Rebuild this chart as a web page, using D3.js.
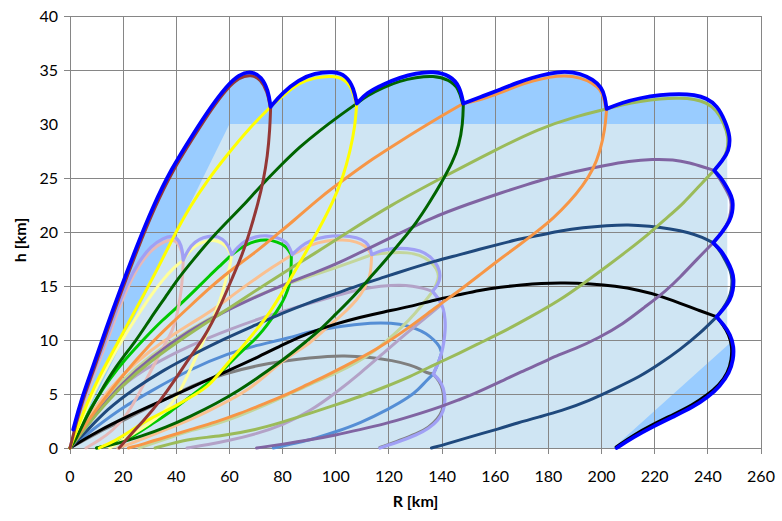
<!DOCTYPE html>
<html>
<head>
<meta charset="utf-8">
<script src="https://cdn.jsdelivr.net/npm/d3@7"></script>
<style>
body { margin: 0; background: #fff; }
text { font-family: Lato, "Open Sans", sans-serif; fill: #000; }
</style>
</head>
<body>
<div id="chart"></div>
<script>
var width = 782, height = 521;

var xTicks = [0, 20, 40, 60, 80, 100, 120, 140, 160, 180, 200, 220, 240, 260];
var yTicks = [0, 5, 10, 15, 20, 25, 30, 35, 40];
var yHiddenGrid = [30];

// background zones [R km, h km]
var lightZone = [[0,0],[60,30],[247.3,30],[247.3,10],[249.6,10],[204.4,0]];
var darkClipX = 247.3, darkClipY = 10;

// outer envelope, upper family (one lobe per array)
var envA = [
  [[1.2,1.7],[4,4.3],[8.8,7.6],[13.5,11],[18.8,14.6],[25,18.6],[31.3,22.4],[38,25.8],[46.4,29.1],[53,31.6],[58.9,33.5],[63.5,34.6],[68.3,34.9],[72,34.4],[74.6,33.1],[75.5,31.6]],
  [[75.5,31.6],[80,32.9],[86,34.1],[92,34.7],[99,34.9],[104,34.5],[106.8,33.3],[107.9,31.9]],
  [[107.9,31.9],[111.6,32.9],[118,33.7],[124.2,34.3],[130,34.7],[136.7,34.9],[143,34.5],[146.7,33.5],[148,31.9]],
  [[148,31.9],[155.5,32.6],[162,33.2],[168,33.8],[174,34.3],[180.6,34.7],[186,34.9],[192,34.7],[196.9,34.1],[200,33.4],[201.3,32.5],[201.9,31.4]],
  [[201.9,31.4],[208,32],[214.4,32.4],[222,32.7],[229.5,32.8],[235,32.7],[239.5,32.4],[243.5,31.7],[246.5,30.3],[248.5,28.8],[247.9,27.5],[245.5,26.6],[242.4,25.7]],
  [[242.4,25.7],[245,25],[247,24.2],[249,23.3],[249.5,22.6],[249.2,21.8],[248.4,21.1],[245.5,20],[242,19]],
  [[242,19],[245,18.3],[247.2,17.4],[249.2,16.4],[249.8,15.6],[249.5,14.6],[248.4,13.7],[246,12.9],[243.3,12.15]],
  [[243.3,12.15],[246,11.4],[248.5,10.5],[249.8,9.4],[249.6,8.2],[248.2,7],[244.5,5.7],[240,4.7],[234.5,3.8],[227,2.9],[219.4,2],[212,1],[205.7,0]]
];

// outer envelope, lower family
var envB = [
  [[0,0],[2.5,2.2],[5.5,4.8],[9,7.2],[12.5,9.3],[16.5,12.1],[21.3,15.2],[26,17.3],[30.5,18.7],[35,19.45],[38.9,19.7],[41.2,19.2],[42.3,18.3],[42.6,17.4]],
  [[42.6,17.4],[44.5,18.4],[47,19.1],[50,19.5],[54,19.7],[57.5,19.4],[59.8,18.7],[60.8,17.9]],
  [[60.8,17.9],[63,18.6],[66,19.2],[70,19.6],[74,19.7],[78,19.5],[81.5,19.1],[82.9,18.4],[83.6,17.9]],
  [[83.6,17.9],[87,18.7],[90.3,19.2],[96,19.6],[102.8,19.7],[108,19.5],[111.6,19.1],[113.1,18.4],[113.5,17.9]],
  [[113.5,17.9],[117,18.3],[121.6,18.5],[127,18.5],[131.7,18.3],[136,17.7],[138.6,16.8],[139.5,15.9],[138.5,15.1],[136.4,14.5]],
  [[136.4,14.5],[138.8,13.8],[140.5,13],[141.2,11.9],[141.2,10.9],[140.7,9.8],[139.9,8.8],[138.5,7.8],[136.7,6.85]],
  [[136.7,6.85],[139,6.3],[140.6,5.6],[141.3,4.4],[140.5,3.4],[138.7,2.6],[135,1.8],[130.4,1.2],[124,0.6],[116.6,0]]
];

// upper family trajectories: climb, lobe, return
var brown = [
  [[0,0],[1.6,1.6],[4.4,4.2],[9.2,7.4],[13.9,10.8],[19.2,14.4],[25.4,18.4],[31.7,22.2],[38.4,25.6],[46.8,28.9],[53.3,31.4],[59.1,33.3],[63.6,34.3],[68.2,34.6],[71.8,34.1],[74.3,33],[75.3,31.6]],
  [[75.5,31.6],[75.2,29.5],[74.3,27],[72.8,24.8],[70.8,22.7],[68,20.3],[65,18],[61.5,16],[56,12.8],[50.5,10.2],[45,8.4],[39.5,6.3],[34,4.4],[28,2.6],[23,1.3],[18.5,0]]
];
var yellow = [
  [[0,0],[5,3.3],[10,6.2],[18.5,10],[26,13.4],[33,16.6],[39,19.6],[45,22.3],[52,24.9],[59,27.1],[67,29.5],[75.5,31.6]],
  [[75.5,31.6],[80,32.6],[86,33.8],[92,34.3],[99,34.5],[103.8,34.1],[106.4,33.1],[107.6,31.9]],
  [[107.9,31.9],[107.2,29.7],[105.5,27.6],[102.8,25.1],[99,22.8],[94,20.4],[88,17.8],[82.8,15.6],[75.2,12.5],[70,10.9],[65,9.4],[59,7.8],[52.7,5.8],[47.4,5],[40,3.9],[29.8,2.7],[23,1.6],[17.3,0.7],[11,0]]
];
var darkGreen = [
  [[0,0],[2.3,0.8],[6,2.8],[11,5],[17,7.5],[24.8,9.9],[30,11.9],[36,14],[41,15.8],[46.3,17.4],[52,19.1],[58.9,20.9],[65,22.4],[71.5,24.2],[79,26.1],[86.5,27.9],[94,29.4],[101,30.7],[107.9,31.9]],
  [[107.9,31.9],[111.6,32.6],[118,33.4],[124.2,34],[130,34.3],[136.7,34.5],[142.7,34.1],[146.3,33.3],[147.7,31.9]],
  [[148,31.9],[147.8,30],[146.4,28],[143.8,26.4],[140.5,24.9],[135.5,22.8],[130.2,20.8],[124.5,19.1],[119.1,17.5],[113,15.8],[106.6,14],[100,12.4],[94,10.9],[89,9.9],[83,8.7],[76.5,7.5],[70,6.4],[64,5.4],[55,4.1],[45.1,2.9],[36,1.9],[27,1.1],[18,0.4],[10,0]]
];
var orange = [
  [[0,0],[5,1.9],[10,3.6],[20,6.8],[30,9.6],[38,11.5],[45,13.1],[52,14.7],[57.7,15.9],[64,17.1],[70.2,18.2],[77,19.6],[84,21],[94,23.2],[105,25.2],[114,26.8],[124.2,28.4],[136,30.2],[148,31.9]],
  [[148,31.9],[155.5,32.3],[162,32.9],[168,33.5],[174,34],[180.6,34.35],[186,34.5],[192,34.3],[196.6,33.8],[199.6,33.2],[201,32.3],[201.6,31.4]],
  [[201.9,31.4],[201.3,29.5],[199.5,27.5],[196.9,25.8],[193,24.3],[188,22.8],[182,21.3],[175,19.9],[168,18.6],[161.8,17.5],[154,16],[146.7,14.6],[138,13.1],[127.9,11.2],[115.4,9.1],[102.8,7.5],[94,6.4],[90.3,6],[80.3,4.8],[72,4],[64,3.2],[55,2.4],[45.1,1.7],[36,1],[28,0.4],[22,0]]
];
var olive = [
  [[0,0],[10,3.2],[20,5.9],[30,8],[45,10.6],[57,12.5],[70,14.6],[86.5,17.2],[94,18.3],[105.3,20.1],[120,22.4],[140.5,25.1],[160,27.6],[176.8,29.6],[189,30.6],[202,31.4]],
  [[202,31.4],[208,31.8],[214.4,32.1],[222,32.35],[229.5,32.4],[235,32.3],[239.3,32],[243.2,31.3],[246,30.1],[247.8,28.8],[247.3,27.4],[245.2,26.5],[242.4,25.7]],
  [[242.4,25.7],[238,24.6],[230.7,22.6],[224,21.2],[218.2,19.9],[210,18.3],[201.9,16.8],[193,15.2],[184.4,13.7],[173,12.1],[161.8,10.6],[154,9.7],[146.7,8.8],[137,7.7],[127.9,6.6],[118,5.6],[109.1,4.75],[100,4],[90.3,3.2],[80,2.4],[70.2,1.7],[57,1.1],[45.1,0.85],[38,0.4],[32,0]]
];
var purple = [
  [[0,0],[10,3.3],[20,6.1],[30,8.3],[45,10.9],[57,12.5],[70,14],[82,15.3],[94,16.4],[101.6,17.2],[110,18.2],[120,19.4],[136.7,21.4],[150,22.6],[161.8,23.6],[172,24.4],[180,25],[190,25.6],[202,26.2],[210,26.55],[219.4,26.75],[227,26.7],[233.3,26.4],[238.5,26],[242.4,25.7]],
  [[242.4,25.7],[244.8,24.8],[246.7,24],[248.4,23.2],[248.9,22.6],[248.6,21.8],[247.9,21],[245.2,19.9],[242,19]],
  [[242,19],[236,17.5],[229.5,15.8],[224.5,14.6],[216,13],[208.2,11.5],[199,10.2],[189.4,9.1],[184.4,8.7],[176.8,7.8],[170,7.1],[161.8,6.1],[151,4.9],[146.7,4.5],[140.5,3.9],[127.9,2.9],[118,2.2],[109.1,1.7],[100,1.2],[90.3,0.75],[80,0.35],[70.2,0]]
];
var navy = [
  [[0,0],[6,1.5],[14,3.6],[23.6,5.4],[35,7.2],[47.4,8.8],[58,10.1],[70,11.4],[80,12.5],[90.3,13.5],[100,14.3],[109,15.1],[118,15.8],[128,16.6],[137,17.3],[146.7,17.9],[154,18.4],[162,18.9],[170,19.4],[177,19.7],[184.4,20.1],[193,20.4],[202,20.6],[210,20.7],[218,20.55],[226,20.3],[233,19.95],[238,19.5],[242,19]],
  [[242,19],[244.8,18.2],[246.7,17.3],[248.6,16.4],[249.2,15.6],[248.9,14.6],[247.9,13.8],[245.7,12.9],[243.3,12.15]],
  [[243.3,12.15],[237,10.6],[229.5,9.1],[222,7.8],[214.4,6.6],[205,5.5],[195.6,4.4],[184.4,3.4],[176.8,2.9],[168,2.3],[161.8,1.8],[150,1],[142,0.4],[136,0]]
];
var black = [
  [[0,0],[10,1.5],[21.3,2.9],[34,4.3],[46.4,5.7],[58,7],[71.5,8.5],[82,9.8],[90.3,10.7],[100,11.5],[109,12.1],[118,12.6],[128,13.1],[137,13.7],[146.7,14.2],[154,14.6],[162,14.9],[170,15.1],[177,15.25],[186,15.3],[196,15.2],[205,15],[214.4,14.6],[222,14.1],[229.5,13.4],[236,12.8],[243.3,12.15]],
  [[243.3,12.15],[245.7,11.4],[247.9,10.5],[249.1,9.4],[248.9,8.2],[247.6,7],[244.2,5.8],[239.7,4.9],[234.3,4],[227,3.1],[219.4,2.2],[212,1.2],[205.5,0.1]]
];

// lower family trajectories
var pink = [
  [[0,0],[3,2.2],[6,4.8],[9.5,7.2],[13,9.2],[17,12],[21.8,15],[26.4,17.1],[30.8,18.4],[35,19.1],[38.8,19.35],[40.9,18.9],[42.1,18.2],[42.6,17.4]],
  [[42.6,17.4],[42.4,16],[41.8,14.5],[41.1,13.4],[40,12],[38.6,10.9],[36.1,9.8],[32.5,8.1],[28.6,6.3],[25,4.6],[21,2.9],[16,1.6],[11,0.7],[6,0]]
];
var lightYellow = [
  [[0,0],[5,3],[10,5.7],[15,8],[20,10.2],[25,12.1],[30,14],[35,15.6],[39,16.7],[42.6,17.4]],
  [[42.6,17.4],[44.5,18.1],[47,18.7],[50,19.1],[54,19.3],[57.3,19],[59.5,18.5],[60.5,17.9]],
  [[60.8,17.9],[60.2,16.8],[59,15.9],[57.3,14.3],[55.2,12.8],[53,11.5],[51.4,10.6],[48,8.7],[44,6.6],[40.1,4.6],[35,3.2],[29,2.1],[23.8,1.3],[19,0.6],[15,0]]
];
var green = [
  [[0,0],[5,2.5],[10,4.6],[15,6.4],[20,8],[28.6,10.3],[35,11.9],[41.1,13.2],[47.4,14.7],[52.7,16],[57,17],[60.8,17.9]],
  [[60.8,17.9],[63,18.3],[66,18.8],[70,19.2],[74,19.3],[78,19.1],[81.2,18.7],[82.5,18.2],[83.3,17.9]],
  [[83.3,17.9],[83.2,16.5],[82.8,15.2],[81,14],[79,13.1],[76,12],[72.7,10.9],[69,9.9],[65.2,9.1],[61,8.1],[57.7,7.2],[51,5.8],[45.1,4.75],[37.6,3.3],[30,2.1],[24,1.1],[17,0.4],[10,0]]
];
var peach = [
  [[0,0],[5,2.2],[10,4],[20,6.9],[30,9],[40,10.7],[47.4,11.8],[55,13],[62,14.3],[70,15.7],[76.5,16.8],[83.6,17.9]],
  [[83.6,17.9],[87,18.3],[90.3,18.8],[96,19.2],[102.8,19.3],[108,19.1],[111.2,18.7],[112.8,18.2],[113.3,17.9]],
  [[113.5,17.9],[113.3,16.8],[112.9,15.9],[110.8,14.7],[107.9,13.7],[104,12.7],[100.3,11.9],[95,10.8],[90.3,9.7],[85,8.9],[80.3,8.1],[74,6.8],[67.7,5.5],[60,4.4],[52,3.4],[45.1,2.6],[37,1.8],[30,1.1],[24,0.5],[18,0]]
];
var lightGreen = [
  [[0,0],[5,2],[10,3.7],[20,6.4],[30,8.5],[45,11],[60,13],[75,14.6],[90.3,15.9],[100,16.7],[107,17.3],[113.5,17.9]],
  [[113.5,17.9],[117,18],[121.6,18.1],[127,18.1],[131.5,17.9],[135.6,17.3],[138,16.6],[138.9,15.9],[138,15.2],[136.4,14.5]],
  [[136.4,14.5],[134,13.7],[130,12.5],[125,11.2],[120,10.1],[115.4,9.1],[108,7.9],[100,6.9],[90.3,5.9],[80,4.7],[70,3.6],[60,2.6],[52,2],[45.1,1.6],[38,1],[32,0.5],[26,0]]
];
var lavender = [
  [[0,0],[5,1.9],[10,3.5],[20,5.9],[30,7.6],[45.1,9.5],[60,11],[75,12.3],[90.3,13.4],[100,14.1],[109.1,14.7],[117,15],[124.2,15.1],[129,15],[133,14.8],[136.4,14.5]],
  [[136.4,14.5],[138.5,13.9],[139.8,13.3]],
  [[139.8,13.3],[134,12.1],[127.9,10.9],[118,8.8],[109.1,6.9],[100,5.1],[90.3,3.4],[80,2.1],[70,1.3],[60,0.7],[52,0.3],[44,0]]
];
var steelBlue = [
  [[0,0],[10,2],[20,3.8],[30,5.2],[45.1,7.3],[60,8.8],[70,9.5],[82.8,10.2],[90.3,10.8],[100,11.2],[109.1,11.5],[117,11.6],[124.2,11.5],[130,11.1],[134.2,10.6],[137,10],[139.2,9.4],[139.8,8.8]],
  [[139.8,8.8],[138.5,7.8],[136.7,6.85]],
  [[136.7,6.85],[134,6.2],[131,5.4],[127.9,4.75],[120,3.6],[109.1,2.3],[100,1.5],[90.3,0.74],[82,0.3],[76.5,0]]
];
var gray = [
  [[0,0],[10,1.4],[21.3,2.7],[34,4.3],[46,5.8],[58,6.9],[71.5,7.7],[82,8.1],[90.3,8.35],[97,8.5],[102.8,8.55],[112,8.45],[121.6,8.1],[128,7.7],[132,7.3],[134.2,6.95],[136.7,6.85]],
  [[136.7,6.85],[139,6.2],[140.2,5.5],[140.9,4.4],[140.1,3.4],[138.4,2.7],[135,1.9],[130.4,1.3],[124,0.7],[116.6,0.05]]
];

// drawing order, bottom to top
var series = [
  {data: gray, color: "#7F7F7F", w: 3},
  {data: steelBlue, color: "#558ED5", w: 3},
  {data: lavender, color: "#B3A2C7", w: 3},
  {data: lightGreen, color: "#C3D69B", w: 3},
  {data: peach, color: "#FAC090", w: 3},
  {data: green, color: "#00C800", w: 3},
  {data: lightYellow, color: "#FFFF99", w: 3},
  {data: pink, color: "#E6B9B8", w: 3},
  {data: envB, color: "#A0A0F5", w: 3.2},
  {data: black, color: "#000000", w: 3},
  {data: navy, color: "#1F497D", w: 3},
  {data: purple, color: "#8064A2", w: 3},
  {data: olive, color: "#9BBB59", w: 3},
  {data: orange, color: "#F79646", w: 3},
  {data: darkGreen, color: "#006400", w: 3},
  {data: yellow, color: "#FFFF00", w: 3},
  {data: brown, color: "#953735", w: 3},
  {data: envA, color: "#0000FF", w: 3.8}
];

var x = d3.scaleLinear().domain([0, 260]).range([70, 761]);
var y = d3.scaleLinear().domain([0, 40]).range([448, 16]);

var svg = d3.select("#chart").append("svg")
  .attr("width", width)
  .attr("height", height);

var line = d3.line()
  .x(function(d){ return x(d[0]); })
  .y(function(d){ return y(d[1]); })
  .curve(d3.curveBasis);

function segPath(segs, joined){
  return segs.map(function(s, i){
    var d = line(s);
    return (i && joined) ? "L" + d.slice(1) : d;
  }).join("");
}

// dark zone = inside of the outer envelope, cut at the right
var clip = svg.append("clipPath").attr("id", "darkclip");
clip.append("rect")
  .attr("x", x(0)).attr("y", y(40))
  .attr("width", x(darkClipX) - x(0)).attr("height", y(darkClipY) - y(40));
clip.append("rect")
  .attr("x", x(0)).attr("y", y(darkClipY))
  .attr("width", x(260) - x(0)).attr("height", y(0) - y(darkClipY));

svg.append("path")
  .attr("d", "M" + x(0) + "," + y(0) + "L" + segPath(envA, true).slice(1) + "Z")
  .attr("fill", "#99CCFF")
  .attr("clip-path", "url(#darkclip)");

svg.append("path")
  .attr("d", d3.line().x(function(d){ return x(d[0]); }).y(function(d){ return y(d[1]); })(lightZone) + "Z")
  .attr("fill", "#CFE5F3");

// grid
var grid = svg.append("g").attr("stroke", "#868686").attr("stroke-width", 1).attr("shape-rendering", "crispEdges");
xTicks.forEach(function(t){
  grid.append("line").attr("x1", x(t)).attr("x2", x(t)).attr("y1", y(0)).attr("y2", y(40) );
  grid.append("line").attr("x1", x(t)).attr("x2", x(t)).attr("y1", y(0)).attr("y2", y(0) + 6);
});
yTicks.forEach(function(t){
  if (yHiddenGrid.indexOf(t) >= 0) return;
  grid.append("line").attr("x1", x(0) - 6).attr("x2", x(260)).attr("y1", y(t)).attr("y2", y(t));
});

// tick labels
svg.append("g").selectAll("text").data(xTicks).enter().append("text")
  .attr("x", function(d){ return x(d); })
  .attr("y", y(0) + 34)
  .attr("text-anchor", "middle")
  .attr("font-size", 16)
  .text(function(d){ return d; });

svg.append("g").selectAll("text").data(yTicks).enter().append("text")
  .attr("x", x(0) - 12)
  .attr("y", function(d){ return y(d) + 6; })
  .attr("text-anchor", "end")
  .attr("font-size", 16)
  .text(function(d){ return d; });

svg.append("text")
  .attr("x", (x(0) + x(260)) / 2)
  .attr("y", 507)
  .attr("text-anchor", "middle")
  .attr("font-size", 16)
  .attr("font-weight", "bold")
  .text("R [km]");

svg.append("text")
  .attr("transform", "translate(26," + ((y(0) + y(40)) / 2 + 8) + ") rotate(-90)")
  .attr("text-anchor", "middle")
  .attr("font-size", 16)
  .attr("font-weight", "bold")
  .text("h [km]");

// trajectories
svg.append("g").selectAll("path").data(series).enter().append("path")
  .attr("d", function(s){ return segPath(s.data, false); })
  .attr("fill", "none")
  .attr("stroke", function(s){ return s.color; })
  .attr("stroke-width", function(s){ return s.w; })
  .attr("stroke-linecap", "round")
  .attr("stroke-linejoin", "round");
</script>
</body>
</html>
